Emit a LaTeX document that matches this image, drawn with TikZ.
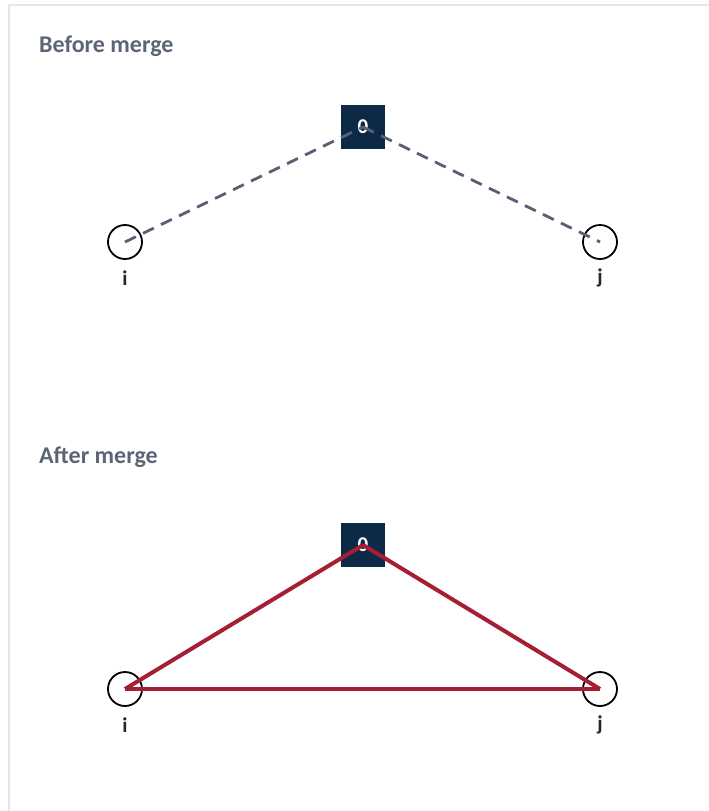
\documentclass[tikz,border=0pt]{standalone}
\usepackage{fontspec}
\setmainfont{Carlito}
\definecolor{titlec}{HTML}{5B6577}
\definecolor{navy}{HTML}{0C2A46}
\definecolor{edgered}{HTML}{A51E33}
\definecolor{dashc}{HTML}{566174}
\definecolor{framec}{HTML}{E3E6EC}
\begin{document}
\begin{tikzpicture}[x=1pt,y=-1pt,
  title/.style={anchor=base west,font=\bfseries\fontsize{24}{28}\selectfont,text=titlec,inner sep=0},
  depot/.style={rectangle,fill=navy,minimum width=44pt,minimum height=44pt,inner sep=0,text=white,font=\bfseries\fontsize{21}{24}\selectfont},
  cust/.style={circle,draw=black,line width=1.8pt,fill=white,minimum size=34pt,inner sep=0},
  lab/.style={font=\bfseries\fontsize{21}{24}\selectfont,text=black!85},
  before/.style={draw=dashc,line width=2.8pt,dash pattern=on 12pt off 8pt},
  after/.style={draw=edgered,line width=4pt}]
\useasboundingbox (0,0) rectangle (709,811);
\draw[framec,line width=1.5pt] (9,811) -- (9,5) -- (709,5);
\node[title] (t1) at (39,52) {Before merge};
\node[title] (t2) at (39,463) {After merge};
% before
\node[depot] (d1) at (363,127) {0};
\node[cust] (i1) at (125,242) {};
\node[cust] (j1) at (600,242) {};
\node[lab] (li1) at (125,278) {i};
\node[lab] (lj1) at (600,278) {j};
\draw[before] (i1.center) -- (d1.center);
\draw[before] (d1.center) -- (j1.center);
% after
\node[depot] (d2) at (363,545) {0};
\node[cust] (i2) at (125,689) {};
\node[cust] (j2) at (600,689) {};
\node[lab] (li2) at (125,725) {i};
\node[lab] (lj2) at (600,725) {j};
\draw[after] (i2.center) -- (d2.center);
\draw[after] (d2.center) -- (j2.center);
\draw[after] (i2.center) -- (j2.center);
\end{tikzpicture}
\end{document}
